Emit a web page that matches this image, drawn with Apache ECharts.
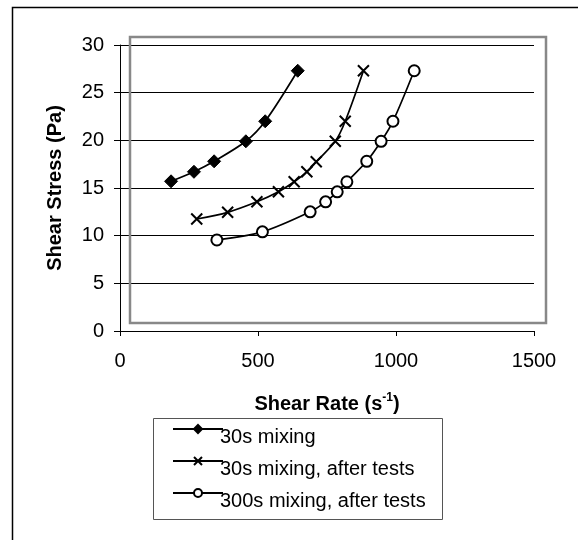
<!DOCTYPE html>
<html>
<head>
<meta charset="utf-8">
<script src="https://cdn.jsdelivr.net/npm/echarts@6/dist/echarts.min.js"></script>
<style>html,body{margin:0;padding:0;background:#fff}#c{width:578px;height:540px}</style>
</head>
<body>
<div id="c"></div>
<script>
var FONT = 'Arial, "Liberation Sans", sans-serif';
var seriesNames = ['30s mixing', '30s mixing, after tests', '300s mixing, after tests'];
var mix30 = [[185,15.7],[268,16.7],[341,17.8],[456,19.9],[526,22.0],[644,27.3]];
var mix30After = [[278,11.75],[390,12.45],[496,13.55],[574,14.6],[631,15.65],[677,16.7],[711,17.75],[780,19.9],[816,22.0],[882,27.3]];
var mix300After = [[351,9.55],[516,10.4],[689,12.5],[745,13.55],[787,14.6],[822,15.65],[894,17.8],[946,19.9],[989,22.0],[1066,27.3]];
var xTicks = {min: 0, max: 1500, interval: 500};
var yTicks = {min: 0, max: 30, interval: 5};

var crossPath = 'path://M0,0L10,10M10,0L0,10';
var chart = echarts.init(document.getElementById('c'), null, {renderer: 'canvas'});
function lineSeries(name, data, symbol, size, fill, bw) {
  return {
    name: name, type: 'line', data: data, smooth: 0.3,
    symbol: symbol, symbolSize: size, showAllSymbol: true,
    lineStyle: {color: '#000', width: 1.7},
    itemStyle: {color: fill, borderColor: '#000', borderWidth: bw},
    emphasis: {disabled: true}, z: 5
  };
}
chart.setOption({
  animation: false,
  backgroundColor: '#fff',
  textStyle: {fontFamily: FONT, color: '#000'},
  graphic: [
    {type: 'rect', shape: {x: 12.5, y: 7.5, width: 700, height: 700}, style: {fill: 'none', stroke: '#000', lineWidth: 1.5}, z: -10},
    {type: 'rect', shape: {x: 130, y: 37, width: 416, height: 286}, style: {fill: 'none', stroke: '#888', lineWidth: 2.5}, z: 1},
    {type: 'rect', shape: {x: 153.5, y: 418.5, width: 289, height: 101}, style: {fill: '#fff', stroke: '#555', lineWidth: 1}, z: 1}
  ],
  grid: {left: 120, right: 44, top: 45, bottom: 209, containLabel: false},
  xAxis: {
    type: 'value', min: xTicks.min, max: xTicks.max, interval: xTicks.interval,
    axisLine: {show: true, lineStyle: {color: '#000', width: 1}},
    axisTick: {show: true, length: 5, lineStyle: {color: '#000'}},
    axisLabel: {fontSize: 20, color: '#000', fontFamily: FONT, margin: 20, formatter: function (v) { return String(v); }},
    splitLine: {show: false},
    name: '{b|Shear Rate (s}{sup|-1}{b|)}',
    nameLocation: 'middle', nameGap: 61,
    nameTextStyle: {rich: {
      b: {fontSize: 20, fontWeight: 'bold', fontFamily: FONT, color: '#000'},
      sup: {fontSize: 12, fontWeight: 'bold', fontFamily: FONT, color: '#000', padding: [0, 0, 12, 0]}
    }}
  },
  yAxis: {
    type: 'value', min: yTicks.min, max: yTicks.max, interval: yTicks.interval,
    axisLine: {show: true, lineStyle: {color: '#000', width: 1}},
    axisTick: {show: true, length: 6, lineStyle: {color: '#000'}},
    axisLabel: {fontSize: 20, color: '#000', fontFamily: FONT, margin: 16},
    splitLine: {show: true, lineStyle: {color: '#000', width: 1}},
    name: 'Shear Stress (Pa)', nameLocation: 'middle', nameGap: 55,
    nameTextStyle: {fontSize: 20, fontWeight: 'bold', fontFamily: FONT, color: '#000'}
  },
  legend: {
    orient: 'vertical', left: 167, top: 419, itemGap: 9,
    itemWidth: 50, itemHeight: 10,
    formatter: '{t|{name}}',
    textStyle: {fontSize: 20, color: '#000', fontFamily: FONT, padding: [0, 0, 0, -8],
      rich: {t: {fontSize: 20, color: '#000', fontFamily: FONT, padding: [16, 0, 0, 0]}}},
    data: seriesNames, selectedMode: false, z: 3
  },
  series: [
    lineSeries(seriesNames[0], mix30, 'diamond', 13, '#000', 1),
    lineSeries(seriesNames[1], mix30After, crossPath, 11, '#000', 2),
    lineSeries(seriesNames[2], mix300After, 'circle', 11, '#fff', 2)
  ]
});
</script>
</body>
</html>
